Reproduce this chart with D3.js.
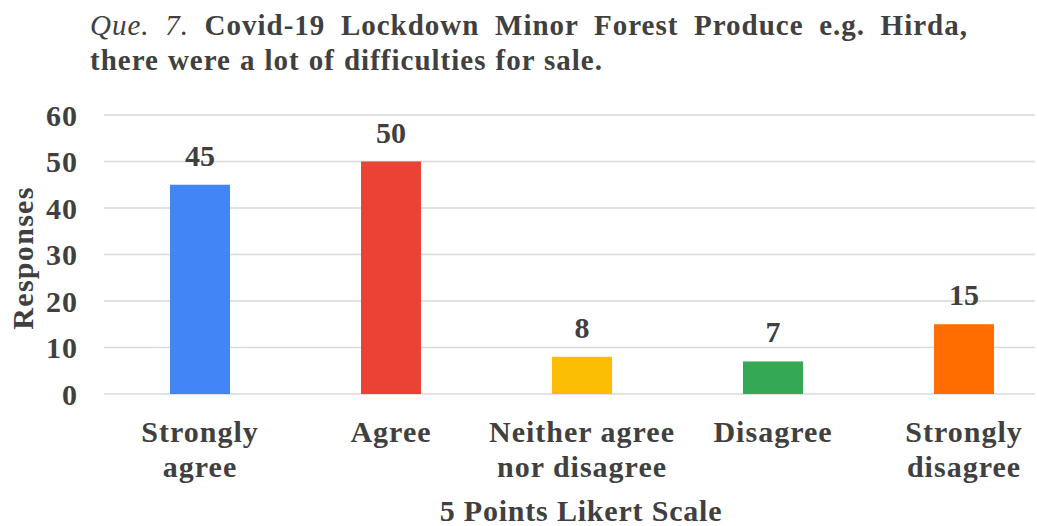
<!DOCTYPE html>
<html><head><meta charset="utf-8">
<script src="https://cdn.jsdelivr.net/npm/d3@7"></script>
<style>html,body{margin:0;padding:0;background:#fff;}</style>
</head>
<body><svg id="c" width="1037" height="526"></svg>
<script>
const categories = [["Strongly","agree"],["Agree"],["Neither agree","nor disagree"],["Disagree"],["Strongly","disagree"]];
const values = [45, 50, 8, 7, 15];
const colors = ["#4285F4","#EA4335","#FBBC04","#34A853","#FF6D01"];
const yTicks = [0,10,20,30,40,50,60];
const titleLine1Italic = "Que. 7.";
const titleLine1 = " Covid-19 Lockdown Minor Forest Produce e.g. Hirda,";
const titleLine2 = "there were a lot of difficulties for sale.";
const xTitle = "5 Points Likert Scale";
const yTitle = "Responses";

const FONT = '"Liberation Serif", "Times New Roman", serif';
const INK = "#404040";
const svg = d3.select("#c");
function txt(sel){ return sel.style("font-family",FONT).style("font-weight","bold").style("fill",INK); }

const ids = d3.range(values.length);
const x = d3.scaleBand().domain(ids).range([104.5, 1059.5]).paddingInner(0.686).paddingOuter(0.343);
const y = d3.scaleLinear().domain([0,60]).range([394,115]);

// gridlines
svg.append("g").selectAll("line").data(yTicks).join("line")
  .attr("x1",104).attr("x2",1035)
  .attr("y1",d=>y(d)).attr("y2",d=>y(d))
  .attr("stroke","#d9d9d9").attr("stroke-width",1.5);

// y tick labels
txt(svg.append("g").selectAll("text").data(yTicks).join("text"))
  .attr("x",78).attr("y",d=>y(d)).attr("dy","0.35em")
  .attr("text-anchor","end").style("font-size","30px").style("letter-spacing","1px").text(d=>d);

// bars
svg.append("g").selectAll("rect").data(ids).join("rect")
  .attr("x",i=>x(i)).attr("width",x.bandwidth())
  .attr("y",i=>y(values[i])).attr("height",i=>y(0)-y(values[i]))
  .attr("fill",i=>colors[i]);

// value labels
txt(svg.append("g").selectAll("text").data(ids).join("text"))
  .attr("x",i=>x(i)+x.bandwidth()/2).attr("y",i=>y(values[i])-19)
  .attr("text-anchor","middle").style("font-size","30px").text(i=>values[i]);

// category labels
const cl = txt(svg.append("g").selectAll("text").data(ids).join("text"))
  .attr("y",442).attr("text-anchor","middle").style("font-size","30px").style("letter-spacing","1px");
cl.each(function(i){
  const t = d3.select(this);
  categories[i].forEach((s,k)=>{
    t.append("tspan").attr("x",x(i)+x.bandwidth()/2).attr("dy",k===0?0:35).text(s);
  });
});

// x title
txt(svg.append("text")).attr("x",581).attr("y",521).attr("text-anchor","middle")
  .style("font-size","30px").style("letter-spacing","0.8px").text(xTitle);

// y title
txt(svg.append("text")).attr("transform","translate(33,258) rotate(-90)")
  .attr("text-anchor","middle").style("font-size","30px").style("letter-spacing","1.3px").text(yTitle);

// title, justified to the widths seen in the reference
function justify(sel, target){
  const node = sel.node();
  const nat = node.getComputedTextLength();
  const spaces = (node.textContent.match(/ /g)||[]).length;
  if (spaces > 0 && target > nat) sel.style("word-spacing", ((target-nat)/spaces) + "px");
}
const t1 = txt(svg.append("text")).attr("x",90).attr("y",35).style("font-size","29px").style("letter-spacing","1px");
t1.append("tspan").style("font-style","italic").style("font-weight","normal").text(titleLine1Italic);
t1.append("tspan").text(titleLine1);
justify(t1, 878);
const t2 = txt(svg.append("text")).attr("x",90).attr("y",70).style("font-size","29px").style("letter-spacing","1px").text(titleLine2);
justify(t2, 513);
</script></body></html>
